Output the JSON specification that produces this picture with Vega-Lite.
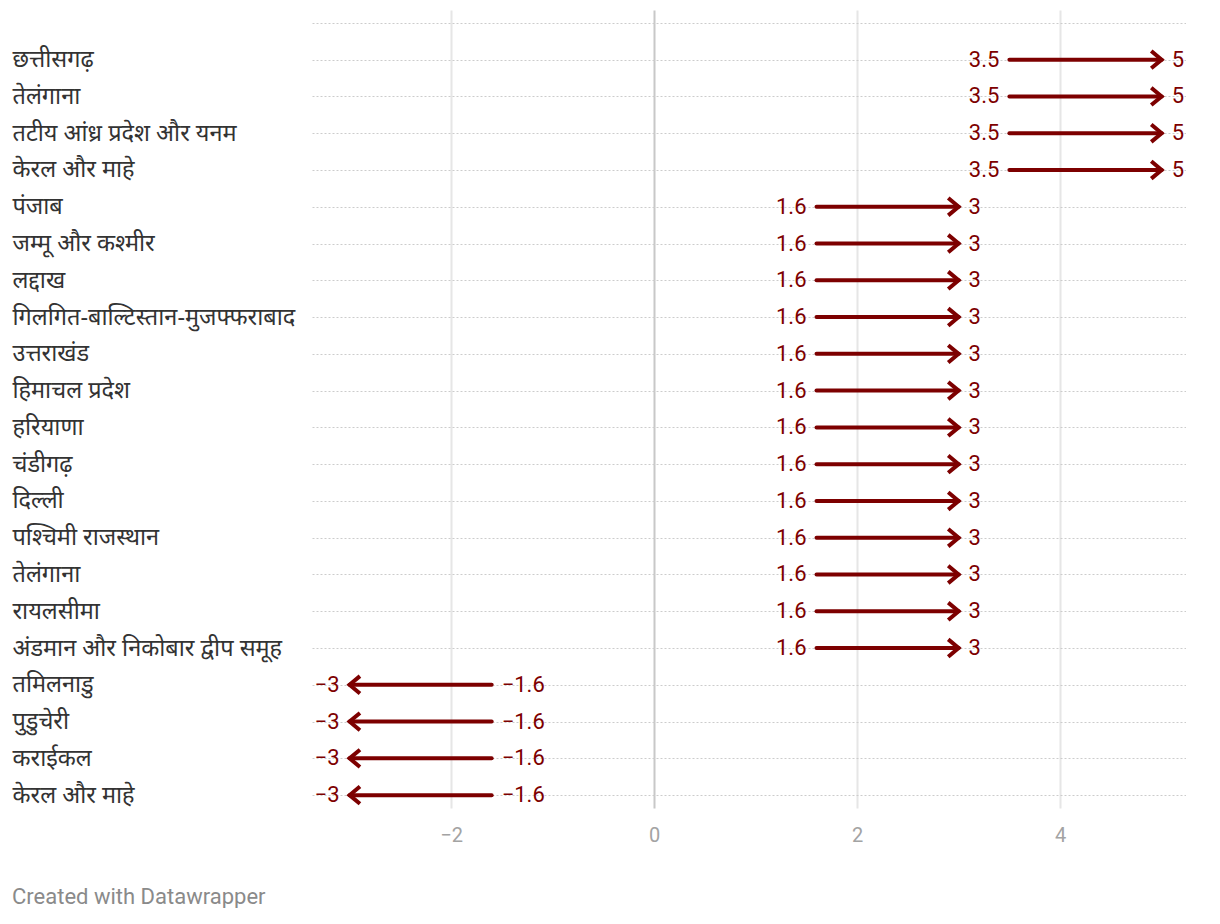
{
  "$schema": "https://vega.github.io/schema/vega-lite/v6.json",
  "width": 874,
  "height": 798,
  "padding": {"left": 12, "top": 10, "right": 0, "bottom": 0},
  "autosize": {"type": "pad"},
  "background": "white",
  "config": {
    "view": {"stroke": null},
    "font": "Roboto",
    "axisX": {"grid": true, "gridWidth": 2, "domain": false, "ticks": false, "labelFontSize": 20, "labelColor": "#a3a3a3", "labelPadding": 17, "labelFont": "Roboto", "format": "~g"}
  },
  "title": {
    "text": "Created with Datawrapper",
    "orient": "bottom",
    "anchor": "start",
    "frame": "bounds",
    "fontSize": 22,
    "fontWeight": "normal",
    "font": "Roboto",
    "color": "#8a8a8a",
    "offset": 42,
    "dx": 0
  },
  "data": {
    "values": [
      {"key": "छत्तीसगढ़|1", "start": 3.5, "end": 5},
      {"key": "तेलंगाना|2", "start": 3.5, "end": 5},
      {"key": "तटीय आंध्र प्रदेश और यनम|3", "start": 3.5, "end": 5},
      {"key": "केरल और माहे|4", "start": 3.5, "end": 5},
      {"key": "पंजाब|5", "start": 1.6, "end": 3},
      {"key": "जम्मू और कश्मीर|6", "start": 1.6, "end": 3},
      {"key": "लद्दाख|7", "start": 1.6, "end": 3},
      {"key": "गिलगित-बाल्टिस्तान-मुजफ्फराबाद|8", "start": 1.6, "end": 3},
      {"key": "उत्तराखंड|9", "start": 1.6, "end": 3},
      {"key": "हिमाचल प्रदेश|10", "start": 1.6, "end": 3},
      {"key": "हरियाणा|11", "start": 1.6, "end": 3},
      {"key": "चंडीगढ़|12", "start": 1.6, "end": 3},
      {"key": "दिल्ली|13", "start": 1.6, "end": 3},
      {"key": "पश्चिमी राजस्थान|14", "start": 1.6, "end": 3},
      {"key": "तेलंगाना|15", "start": 1.6, "end": 3},
      {"key": "रायलसीमा|16", "start": 1.6, "end": 3},
      {"key": "अंडमान और निकोबार द्वीप समूह|17", "start": 1.6, "end": 3},
      {"key": "तमिलनाडु|18", "start": -1.6, "end": -3},
      {"key": "पुडुचेरी|19", "start": -1.6, "end": -3},
      {"key": "कराईकल|20", "start": -1.6, "end": -3},
      {"key": "केरल और माहे|21", "start": -1.6, "end": -3}
    ]
  },
  "encoding": {
    "y": {
      "field": "key",
      "type": "ordinal",
      "scale": {
        "type": "point",
        "padding": 0.35,
        "domain": ["", "छत्तीसगढ़|1", "तेलंगाना|2", "तटीय आंध्र प्रदेश और यनम|3", "केरल और माहे|4", "पंजाब|5", "जम्मू और कश्मीर|6", "लद्दाख|7", "गिलगित-बाल्टिस्तान-मुजफ्फराबाद|8", "उत्तराखंड|9", "हिमाचल प्रदेश|10", "हरियाणा|11", "चंडीगढ़|12", "दिल्ली|13", "पश्चिमी राजस्थान|14", "तेलंगाना|15", "रायलसीमा|16", "अंडमान और निकोबार द्वीप समूह|17", "तमिलनाडु|18", "पुडुचेरी|19", "कराईकल|20", "केरल और माहे|21"]
      },
      "axis": {
        "title": null,
        "labelExpr": "split(datum.value, '|')[0]",
        "labelAlign": "left",
        "labelPadding": 300,
        "ticks": false,
        "tickSize": 0,
        "domain": false,
        "grid": true,
        "gridDash": [2, 2],
        "gridColor": "#cccccc",
        "gridWidth": 1,
        "labelFontSize": 23.5,
        "labelColor": "#333333",
        "labelFont": "Noto Sans",
        "labelLimit": 320
      }
    }
  },
  "layer": [
    {
      "mark": {"type": "rule", "color": "#7d0000", "strokeWidth": 4, "strokeCap": "round"},
      "encoding": {
        "x": {"field": "start", "type": "quantitative", "scale": {"domain": [-3.37, 5.24], "nice": false, "zero": false}, "axis": {"title": null, "values": [-2, 0, 2, 4], "gridColor": {"condition": {"test": "datum.value === 0", "value": "#c8c8c8"}, "value": "#e6e6e6"}}},
        "x2": {"field": "end"}
      }
    },
    {
      "mark": {"type": "point", "shape": "M-1.2,-1L0,0L-1.2,1", "filled": false, "stroke": "#7d0000", "strokeWidth": 4, "size": 300, "opacity": 1},
      "encoding": {
        "x": {"field": "end", "type": "quantitative"},
        "angle": {"condition": {"test": "datum.end < datum.start", "value": 180}, "value": 0}
      }
    },
    {
      "transform": [{"filter": "datum.end > datum.start"}],
      "mark": {"type": "text", "align": "right", "dx": -10, "fontSize": 22, "color": "#7d0000", "font": "Roboto"},
      "encoding": {"x": {"field": "start", "type": "quantitative"}, "text": {"field": "start", "type": "quantitative", "format": "~g"}}
    },
    {
      "transform": [{"filter": "datum.end > datum.start"}],
      "mark": {"type": "text", "align": "left", "dx": 10, "fontSize": 22, "color": "#7d0000", "font": "Roboto"},
      "encoding": {"x": {"field": "end", "type": "quantitative"}, "text": {"field": "end", "type": "quantitative", "format": "~g"}}
    },
    {
      "transform": [{"filter": "datum.end < datum.start"}],
      "mark": {"type": "text", "align": "left", "dx": 10, "fontSize": 22, "color": "#7d0000", "font": "Roboto"},
      "encoding": {"x": {"field": "start", "type": "quantitative"}, "text": {"field": "start", "type": "quantitative", "format": "~g"}}
    },
    {
      "transform": [{"filter": "datum.end < datum.start"}],
      "mark": {"type": "text", "align": "right", "dx": -10, "fontSize": 22, "color": "#7d0000", "font": "Roboto"},
      "encoding": {"x": {"field": "end", "type": "quantitative"}, "text": {"field": "end", "type": "quantitative", "format": "~g"}}
    }
  ]
}
